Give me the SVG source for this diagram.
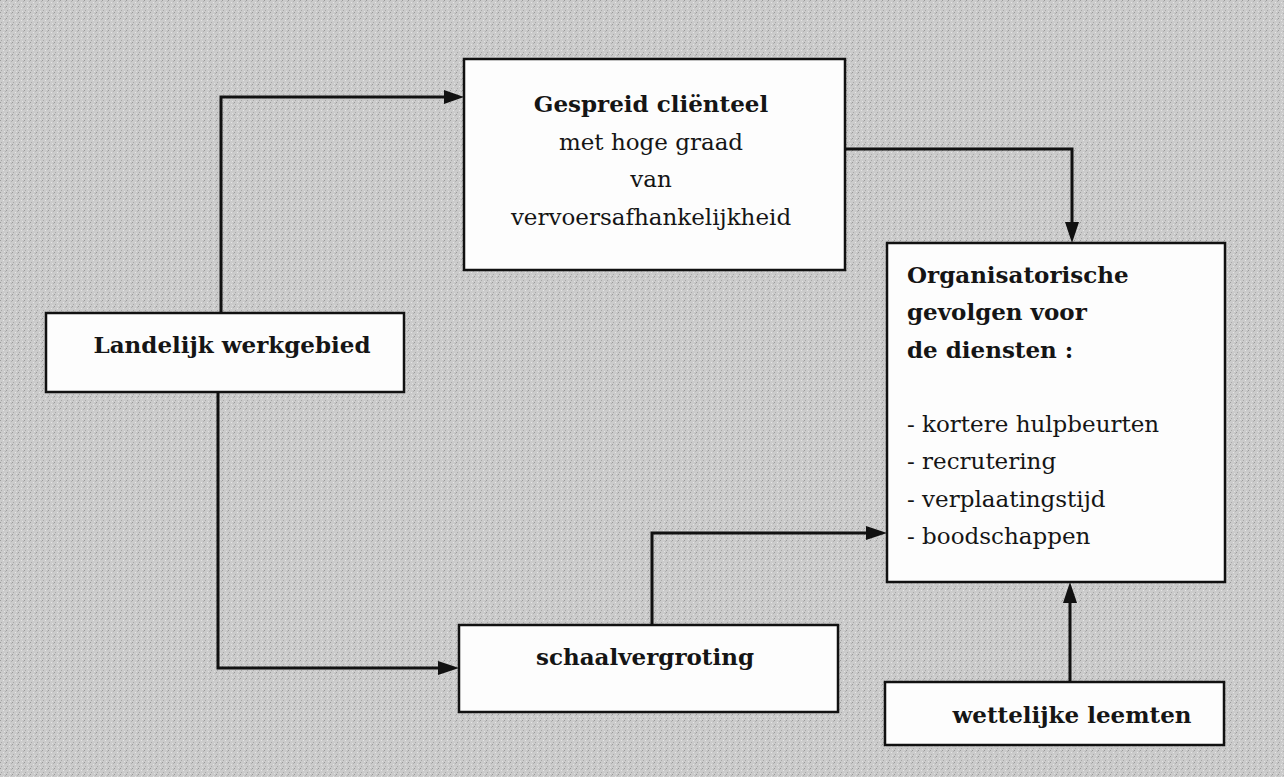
<svg xmlns="http://www.w3.org/2000/svg" width="1284" height="777" viewBox="0 0 1284 777">
<style>
.box{fill:#fdfdfd;stroke:#111;stroke-width:2.5}
.t{font-family:"DejaVu Serif","Liberation Serif",serif;font-size:23px;fill:#151515}
.b{font-weight:bold}
.c{fill:none;stroke:#111;stroke-width:3}
</style>
<defs>
<pattern id="n" width="6" height="6" patternUnits="userSpaceOnUse">
<rect width="6" height="6" fill="#cbcbcb"/>
<rect x="0" y="0" width="1" height="1" fill="#9a9a9a"/>
<rect x="3" y="2" width="1" height="1" fill="#e6e6e6"/>
<rect x="1" y="4" width="1" height="1" fill="#a8a8a8"/>
<rect x="4" y="5" width="1" height="1" fill="#e0e0e0"/>
<rect x="5" y="1" width="1" height="1" fill="#b0b0b0"/>
</pattern>
</defs>
<rect width="1284" height="777" fill="url(#n)"/>
<g id="connectors">
<path class="c" d="M221 313 V97 H448"/>
<path d="M464 97 L444 90 L444 104 Z" fill="#111"/>
<path class="c" d="M845 149 H1072 V228"/>
<path d="M1072 243 L1065 222 L1079 222 Z" fill="#111"/>
<path class="c" d="M218 392 V668 H443"/>
<path d="M459 668 L438 661 L438 675 Z" fill="#111"/>
<path class="c" d="M652 625 V533 H871"/>
<path d="M887 533 L866 526 L866 540 Z" fill="#111"/>
<path class="c" d="M1070 682 V597"/>
<path d="M1070 582 L1063 603 L1077 603 Z" fill="#111"/>
</g>
<g id="gespreid">
<rect class="box" x="464" y="59" width="381" height="211"/>
<text class="t b" x="651" y="112" text-anchor="middle">Gespreid cliënteel</text>
<text class="t" x="651" y="150" text-anchor="middle">met hoge graad</text>
<text class="t" x="651" y="187" text-anchor="middle">van</text>
<text class="t" x="651" y="225" text-anchor="middle">vervoersafhankelijkheid</text>
</g>
<g id="organisatorische">
<rect class="box" x="887" y="243" width="338" height="339"/>
<text class="t b" x="907" y="283">Organisatorische</text>
<text class="t b" x="907" y="320">gevolgen voor</text>
<text class="t b" x="907" y="358">de diensten :</text>
<text class="t" x="907" y="432">- kortere hulpbeurten</text>
<text class="t" x="907" y="469">- recrutering</text>
<text class="t" x="907" y="507">- verplaatingstijd</text>
<text class="t" x="907" y="544">- boodschappen</text>
</g>
<g id="landelijk">
<rect class="box" x="46" y="313" width="358" height="79"/>
<text class="t b" x="232" y="353" text-anchor="middle">Landelijk werkgebied</text>
</g>
<g id="schaalvergroting">
<rect class="box" x="459" y="625" width="379" height="87"/>
<text class="t b" x="645" y="665" text-anchor="middle">schaalvergroting</text>
</g>
<g id="wettelijke">
<rect class="box" x="885" y="682" width="339" height="63"/>
<text class="t b" x="1072" y="723" text-anchor="middle">wettelijke leemten</text>
</g>
</svg>
